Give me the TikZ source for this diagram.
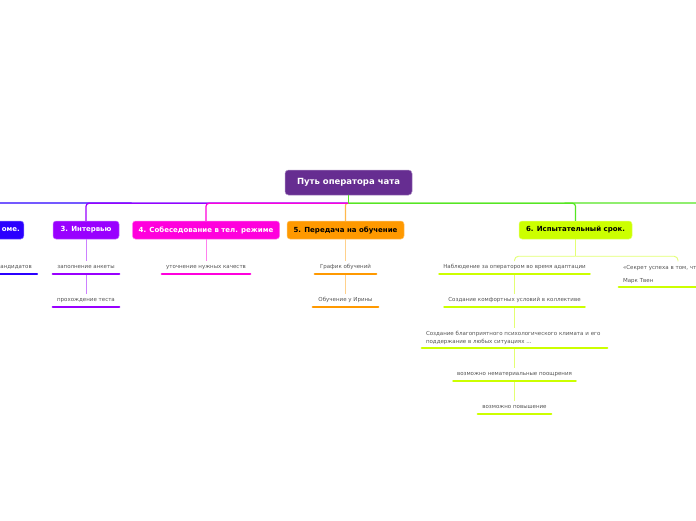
\documentclass[tikz,border=0pt]{standalone}
\usepackage{fontspec}
\setmainfont{DejaVu Sans}
\definecolor{rootc}{HTML}{662D91}
\definecolor{bluec}{HTML}{2B00FF}
\definecolor{purc}{HTML}{9900FF}
\definecolor{magc}{HTML}{FF00DD}
\definecolor{orc}{HTML}{FF9900}
\definecolor{ygc}{HTML}{CCFF00}
\definecolor{grc}{HTML}{55E622}
\definecolor{txtc}{HTML}{555555}
\begin{document}
\begin{tikzpicture}[x=1pt,y=-1pt,
  rootbox/.style={rounded corners=3.5pt, fill=rootc, draw=rootc!55!white, line width=0.5pt,
    minimum width=127pt, minimum height=25pt, inner sep=0pt, text=white,
    font=\fontsize{8.5}{10}\selectfont\bfseries},
  branch/.style={rounded corners=3pt, fill=#1, draw=#1!55!white, line width=0.5pt,
    minimum height=18pt, inner sep=0pt, text=white,
    font=\fontsize{7}{8.5}\selectfont\bfseries},
  child/.style={inner xsep=0pt, inner ysep=3.5pt, text height=4.2pt, text depth=1.4pt,
    anchor=south, text=txtc, font=\fontsize{5.5}{7}\selectfont},
  multichild/.style={child, align=left, inner xsep=4pt, text height=, text depth=},
  mainline/.style={line width=1.2pt},
  subline/.style={line width=0.9pt},
  ul/.style={line width=2.4pt, line cap=round}
]
\useasboundingbox (0,0) rectangle (696,520);
\fill[white] (0,0) rectangle (696,520);

% root and branch nodes
\node[rootbox] (root) at (348.5,182.5) {Путь оператора чата};
\node[branch=bluec, anchor=east, minimum width=60pt, text width=52pt, align=right] (b2) at (24,230) {оме.};
\node[branch=purc, minimum width=66pt] (n3) at (86,230) {3. Интервью};
\node[branch=magc, minimum width=147pt] (n4) at (206,230) {4. Собеседование в тел. режиме};
\node[branch=orc, minimum width=117pt, text=black] (n5) at (345.5,230) {5. Передача на обучение};
\node[branch=ygc, minimum width=113pt, text=black] (n6) at (575.5,230) {6. Испытательный срок.};

\coordinate (hub) at ([yshift=-8pt]root.south);
\coordinate (lft) at (0,203);
\coordinate (rgt) at (696,203);

% main connectors
\draw[mainline, bluec] (hub) -- (lft);
\draw[mainline, purc, rounded corners=3pt] (hub) -| (n3.north);
\draw[mainline, orc!70!white, rounded corners=2pt] (hub) -| (n5.north);
\draw[mainline, magc, rounded corners=3pt] (hub) -| (n4.north);
\draw[mainline, grc] (hub) -- (rgt);
\draw[mainline, grc, rounded corners=3pt] (hub) -| (n6.north);
\draw[mainline, grc] (root.south) -- (hub);

% children of node 2 (cut off)
\node[child, anchor=south east, inner xsep=5pt] (c21) at (37,274) {кандидатов};
\draw[ul, bluec] (c21.south west) -- (c21.south east);

% children of node 3
\node[child, minimum width=66pt] (c31) at (86,274) {заполнение анкеты};
\node[child, minimum width=66pt] (c32) at (86,307) {прохождение теста};
\draw[subline, purc!50!white] (n3.south) -- (c31.north);
\draw[subline, purc!50!white] (c31.south) -- (c32.north);
\draw[ul, purc] (c31.south west) -- (c31.south east);
\draw[ul, purc] (c32.south west) -- (c32.south east);

% children of node 4
\node[child, minimum width=88pt] (c41) at (206,274) {уточнение нужных качеств};
\draw[subline, magc!50!white] (n4.south) -- (c41.north);
\draw[ul, magc] (c41.south west) -- (c41.south east);

% children of node 5
\node[child, minimum width=61pt] (c51) at (345.5,274) {График обучений};
\node[child, minimum width=65pt] (c52) at (345.5,307) {Обучение у Ирины};
\draw[subline, orc!45!white] (n5.south) -- (c51.north);
\draw[subline, orc!45!white] (c51.south) -- (c52.north);
\draw[ul, orc] (c51.south west) -- (c51.south east);
\draw[ul, orc] (c52.south west) -- (c52.south east);

% children of node 6
\node[child, minimum width=150pt] (c61) at (514.5,274) {Наблюдение за оператором во время адаптации};
\node[child, minimum width=140pt] (c62) at (514.5,307) {Создание комфортных условий в коллективе};
\node[multichild, minimum width=185pt, text width=177pt,
      font=\fontsize{5.5}{7.5}\selectfont] (c63) at (514.5,348)
      {Создание благоприятного психологического климата и его\\поддержание в любых ситуациях ...};
\node[child, minimum width=122pt] (c64) at (514.5,381) {возможно нематериальные поощрения};
\node[child, minimum width=73pt] (c65) at (514.5,414) {возможно повышение};
\node[multichild, minimum width=118pt, text width=110pt,
      font=\fontsize{5.5}{13}\selectfont] (q) at (678,287)
      {«Секрет успеха в том, чт\\Марк Твен};

\coordinate (n6hub) at ([yshift=-17pt]n6.south);
\draw[subline, ygc!55!white] (n6.south) -- (n6hub);
\draw[subline, ygc!55!white, rounded corners=4pt] (n6hub) -| (c61.north);
\draw[subline, ygc!55!white, rounded corners=4pt] (n6hub) -| (q.north);
\draw[subline, ygc!55!white] (c61.south) -- (c62.north);
\draw[subline, ygc!55!white] (c62.south) -- (c63.north);
\draw[subline, ygc!55!white] (c63.south) -- (c64.north);
\draw[subline, ygc!55!white] (c64.south) -- (c65.north);
\foreach \c in {c61,c62,c63,c64,c65,q}
  \draw[ul, ygc] (\c.south west) -- (\c.south east);
\end{tikzpicture}
\end{document}
